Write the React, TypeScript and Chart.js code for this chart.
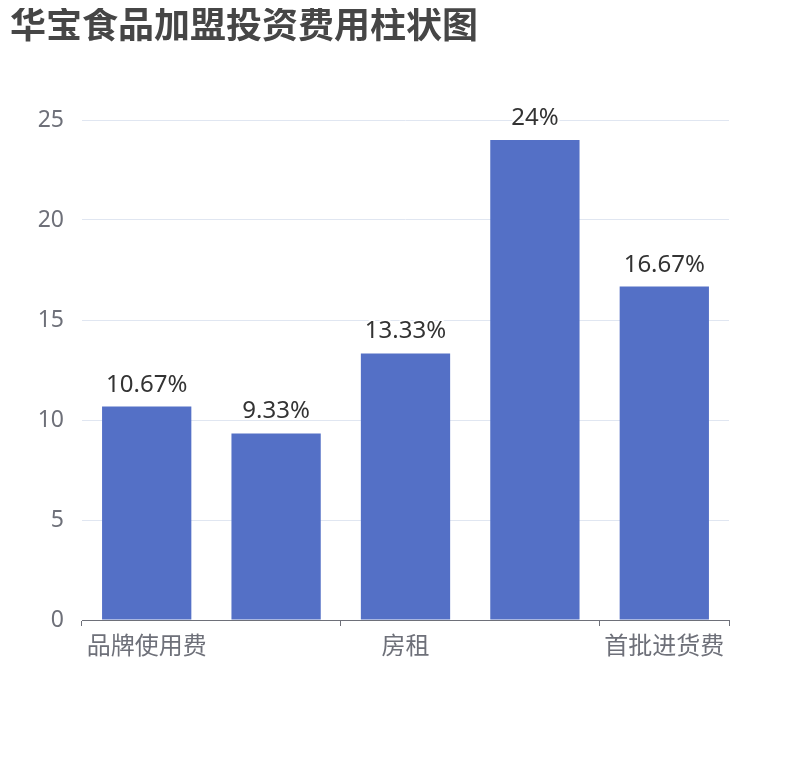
import React, { useEffect, useRef } from "react";
import { Chart, registerables } from "chart.js";

Chart.register(...registerables);

const titleText = "华宝食品加盟投资费用柱状图";
const categories = ["品牌使用费", "保证金", "房租", "装修费", "首批进货费"];
const values = [10.67, 9.33, 13.33, 24, 16.67];
const valueLabels = ["10.67%", "9.33%", "13.33%", "24%", "16.67%"];
const yTicks = [0, 5, 10, 15, 20, 25];

const FONT = "'Noto Sans', 'Noto Sans CJK SC', sans-serif";
const TITLE_FONT = "'Noto Sans CJK SC', 'Noto Sans', sans-serif";

const labelPlugin = {
  id: "barLabels",
  afterDatasetsDraw(chart: any) {
    const ctx = chart.ctx;
    const meta = chart.getDatasetMeta(0);
    ctx.save();
    ctx.font = `24px ${FONT}`;
    ctx.textAlign = "center";
    ctx.textBaseline = "alphabetic";
    ctx.lineJoin = "round";
    meta.data.forEach((bar: any, i: number) => {
      const x = bar.x;
      const y = bar.y - 15;
      ctx.strokeStyle = "#ffffff";
      ctx.lineWidth = 4;
      ctx.strokeText(valueLabels[i], x, y);
      ctx.fillStyle = "#333333";
      ctx.fillText(valueLabels[i], x, y);
    });
    ctx.restore();
  },
};

const titlePlugin = {
  id: "customTitle",
  afterDraw(chart: any) {
    const ctx = chart.ctx;
    ctx.save();
    ctx.font = `bold 36px ${TITLE_FONT}`;
    ctx.fillStyle = "#464646";
    ctx.textAlign = "left";
    ctx.textBaseline = "alphabetic";
    ctx.fillText(titleText, 2, 30);
    ctx.restore();
  },
};

export default function App() {
  const ref = useRef<HTMLCanvasElement>(null);
  useEffect(() => {
    if (!ref.current) return;
    const chart = new Chart(ref.current, {
      type: "bar",
      data: {
        labels: categories,
        datasets: [
          {
            data: values,
            backgroundColor: "#5470C6",
            barPercentage: 0.69,
            categoryPercentage: 1,
          },
        ],
      },
      plugins: [labelPlugin, titlePlugin],
      options: {
        responsive: false,
        animation: false,
        layout: { padding: { top: 112, right: 73, left: 0, bottom: 0 } },
        plugins: {
          legend: { display: false },
          tooltip: { enabled: false },
          title: { display: false },
        },
        scales: {
          x: {
            border: { display: true, color: "#6E7079", width: 1 },
            grid: {
              display: true,
              drawOnChartArea: false,
              drawTicks: true,
              tickLength: 6,
              offset: true,
              color: (c: any) =>
                c.index === 1 || c.index === 3 ? "rgba(0,0,0,0)" : "#6E7079",
            },
            ticks: {
              autoSkip: false,
              maxRotation: 0,
              padding: 7,
              color: "#6E7079",
              font: { family: FONT, size: 24 },
              callback: (_v: any, i: number) =>
                i === 1 || i === 3 ? "" : categories[i],
            },
            afterFit: (s: any) => {
              s.height = 132;
            },
          },
          y: {
            min: 0,
            max: 25,
            border: { display: false },
            grid: { color: "#E0E6F1", drawTicks: false, lineWidth: 1 },
            ticks: {
              stepSize: 5,
              padding: 18,
              color: "#6E7079",
              font: { family: FONT, size: 23 },
              callback: (v: any) => (yTicks.includes(v) ? String(v) : ""),
            },
            afterFit: (s: any) => {
              s.width = 74;
            },
          },
        },
      },
    });
    return () => chart.destroy();
  }, []);
  return (
    <div style={{ width: 794, height: 744 }}>
      <canvas ref={ref} width={794} height={744} style={{ display: "block" }} />
    </div>
  );
}
